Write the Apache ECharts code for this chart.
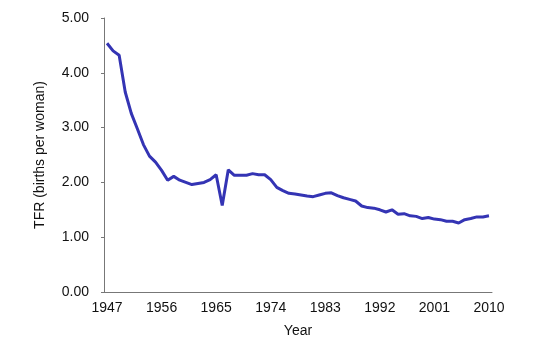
<!DOCTYPE html>
<html>
<head>
<meta charset="utf-8">
<script src="https://cdn.jsdelivr.net/npm/echarts@6/dist/echarts.min.js"></script>
<style>
  html, body { margin: 0; padding: 0; background: #fff; }
  #chart { width: 550px; height: 339px; }
</style>
</head>
<body>
<div id="chart"></div>
<script>
// years shown on the x axis (one category per year)
var years = [];
for (var y = 1947; y <= 2010; y++) years.push(String(y));

// total fertility rate
var tfr = [
  4.54, 4.40, 4.32, 3.65, 3.26, 2.98, 2.69, 2.48, 2.37, 2.22,
  2.04, 2.11, 2.04, 2.00, 1.96, 1.98, 2.00, 2.05, 2.14, 1.58,
  2.23, 2.13, 2.13, 2.13, 2.16, 2.14, 2.14, 2.05, 1.91, 1.85,
  1.80, 1.79, 1.77, 1.75, 1.74, 1.77, 1.80, 1.81, 1.76, 1.72,
  1.69, 1.66, 1.57, 1.54, 1.53, 1.50, 1.46, 1.50, 1.42, 1.43,
  1.39, 1.38, 1.34, 1.36, 1.33, 1.32, 1.29, 1.29, 1.26, 1.32,
  1.34, 1.37, 1.37, 1.39
];

var axisColor = '#777';
var textFont = 'Liberation Sans, Arial, sans-serif';

var myChart = echarts.init(document.getElementById('chart'));
myChart.setOption({
  animation: false,
  // fixed plot box, don't let v6 shrink it to fit the names
  grid: { left: 104, right: 58, top: 18, bottom: 47, outerBoundsMode: 'none', containLabel: false },
  xAxis: {
    type: 'category',
    data: years,
    boundaryGap: true,
    name: 'Year',
    nameLocation: 'middle',
    nameGap: 32,
    nameTextStyle: { color: '#111', fontSize: 14, fontFamily: textFont },
    axisLine: { lineStyle: { color: axisColor, width: 1 } },
    // ticks sit inside the plot on the x axis
    axisTick: { interval: 8, inside: true, length: 3, lineStyle: { color: axisColor } },
    axisLabel: { interval: 8, color: '#111', fontSize: 14, fontFamily: textFont, margin: 9 },
    splitLine: { show: false }
  },
  yAxis: {
    type: 'value',
    min: 0,
    max: 5,
    interval: 1,
    name: 'TFR (births per woman)',
    nameLocation: 'middle',
    nameGap: 57,
    nameTextStyle: { color: '#111', fontSize: 14, fontFamily: textFont },
    axisLine: { show: true, lineStyle: { color: axisColor, width: 1 } },
    axisTick: { show: true, length: 3, lineStyle: { color: axisColor } },
    axisLabel: {
      color: '#111', fontSize: 14, fontFamily: textFont, margin: 15,
      formatter: function (v) { return v.toFixed(2); }
    },
    splitLine: { show: false }
  },
  series: [{
    type: 'line',
    data: tfr,
    symbol: 'none',
    lineStyle: { color: '#3434b4', width: 3 }
  }]
});
</script>
</body>
</html>
